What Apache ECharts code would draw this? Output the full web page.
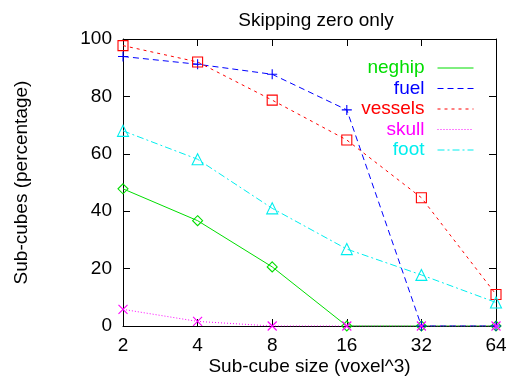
<!DOCTYPE html>
<html>
<head>
<meta charset="utf-8">
<script src="https://cdn.jsdelivr.net/npm/echarts@6/dist/echarts.min.js"></script>
<style>html,body{margin:0;padding:0;background:#fff}#c{width:510px;height:376px}</style>
</head>
<body>
<div id="c"></div>
<script>
const categories = ['2', '4', '8', '16', '32', '64'];
const neghip  = [47.8, 36.7, 20.6, 0, 0, 0];
const fuel    = [93.9, 91.2, 87.7, 75.3, 0, 0];
const vessels = [97.7, 92.0, 78.7, 64.8, 44.7, 11.0];
const skull   = [5.8, 1.6, 0, 0, 0, 0];
const foot    = [68.0, 58.1, 41.0, 26.8, 17.8, 8.2];
const yTicks  = [0, 20, 40, 60, 80, 100];

const FONT = 'Liberation Sans';
const PLUS = 'path://M0,5L10,5M5,0L5,10';
const CROSS = 'path://M0,0L10,10M0,10L10,0';

function mk(name, data, color, dash, symbol, size) {
  return {
    name, type: 'line', data,
    symbol, symbolSize: size,
    lineStyle: { color, width: 1, type: dash },
    itemStyle: { color: 'rgba(0,0,0,0)', borderColor: color, borderWidth: 1.1 },
    emphasis: { disabled: true },
    animation: false
  };
}

const series = [
  mk('neghip', neghip, '#00dd00', 'solid', 'diamond', 10),
  mk('fuel', fuel, '#0000ff', [6, 4], PLUS, 10),
  mk('vessels', vessels, '#ff0000', [3, 4], 'rect', 10),
  mk('skull', skull, '#ff00ff', [1, 2], CROSS, 9),
  mk('foot', foot, '#00eeee', [7, 3, 2, 3], 'triangle', 11)
];

const legendColors = { neghip: '#00dd00', fuel: '#0000ff', vessels: '#ff0000', skull: '#ff00ff', foot: '#00eeee' };

const chart = echarts.init(document.getElementById('c'));
const tick = { show: true, inside: true, length: 7, lineStyle: { color: '#000', width: 1 } };
const line = { show: true, onZero: false, lineStyle: { color: '#000', width: 1 } };
chart.setOption({
  animation: false,
  textStyle: { fontFamily: FONT },
  title: {
    text: 'Skipping zero only', left: 311, top: 6, textAlign: 'center',
    textStyle: { fontFamily: FONT, fontWeight: 'normal', fontSize: 19, color: '#000' }
  },
  grid: { left: 123, right: 14, top: 39, bottom: 50, outerBoundsMode: 'none', containLabel: false },
  legend: {
    orient: 'vertical', right: 31, top: 53, align: 'right',
    itemWidth: 36, itemHeight: 14, itemGap: 0.5,
    data: series.map(s => ({ name: s.name, textStyle: { color: legendColors[s.name] } })),
    itemStyle: { opacity: 0 },
    lineStyle: { width: 1 },
    textStyle: { fontFamily: FONT, fontSize: 19, lineHeight: 20, padding: [0, 8, 0, 0] },
    selectedMode: false
  },
  xAxis: [
    {
      type: 'category', data: categories, boundaryGap: false, position: 'bottom',
      axisLine: line, axisTick: Object.assign({ alignWithLabel: true }, tick), splitLine: { show: false },
      axisLabel: { color: '#000', fontSize: 19, fontFamily: FONT, margin: 10 },
      name: 'Sub-cube size (voxel^3)', nameLocation: 'middle', nameGap: 31, nameMoveOverlap: false,
      nameTextStyle: { color: '#000', fontSize: 19, fontFamily: FONT }
    },
    {
      type: 'category', data: categories, boundaryGap: false, position: 'top',
      axisLine: line, axisTick: tick, splitLine: { show: false },
      axisLabel: { show: false }
    }
  ],
  yAxis: [
    {
      type: 'value', min: 0, max: 100, interval: 20, position: 'left',
      axisLine: line, axisTick: tick, splitLine: { show: false },
      axisLabel: { color: '#000', fontSize: 19, fontFamily: FONT, margin: 11,
        formatter: v => yTicks.includes(v) ? String(v) : '' },
      name: 'Sub-cubes (percentage)', nameLocation: 'middle', nameGap: 92, nameRotate: 90,
      nameMoveOverlap: false,
      nameTextStyle: { color: '#000', fontSize: 19, fontFamily: FONT }
    },
    {
      type: 'value', min: 0, max: 100, interval: 20, position: 'right',
      axisLine: line, axisTick: tick, splitLine: { show: false },
      axisLabel: { show: false }
    }
  ],
  series
});
</script>
</body>
</html>
